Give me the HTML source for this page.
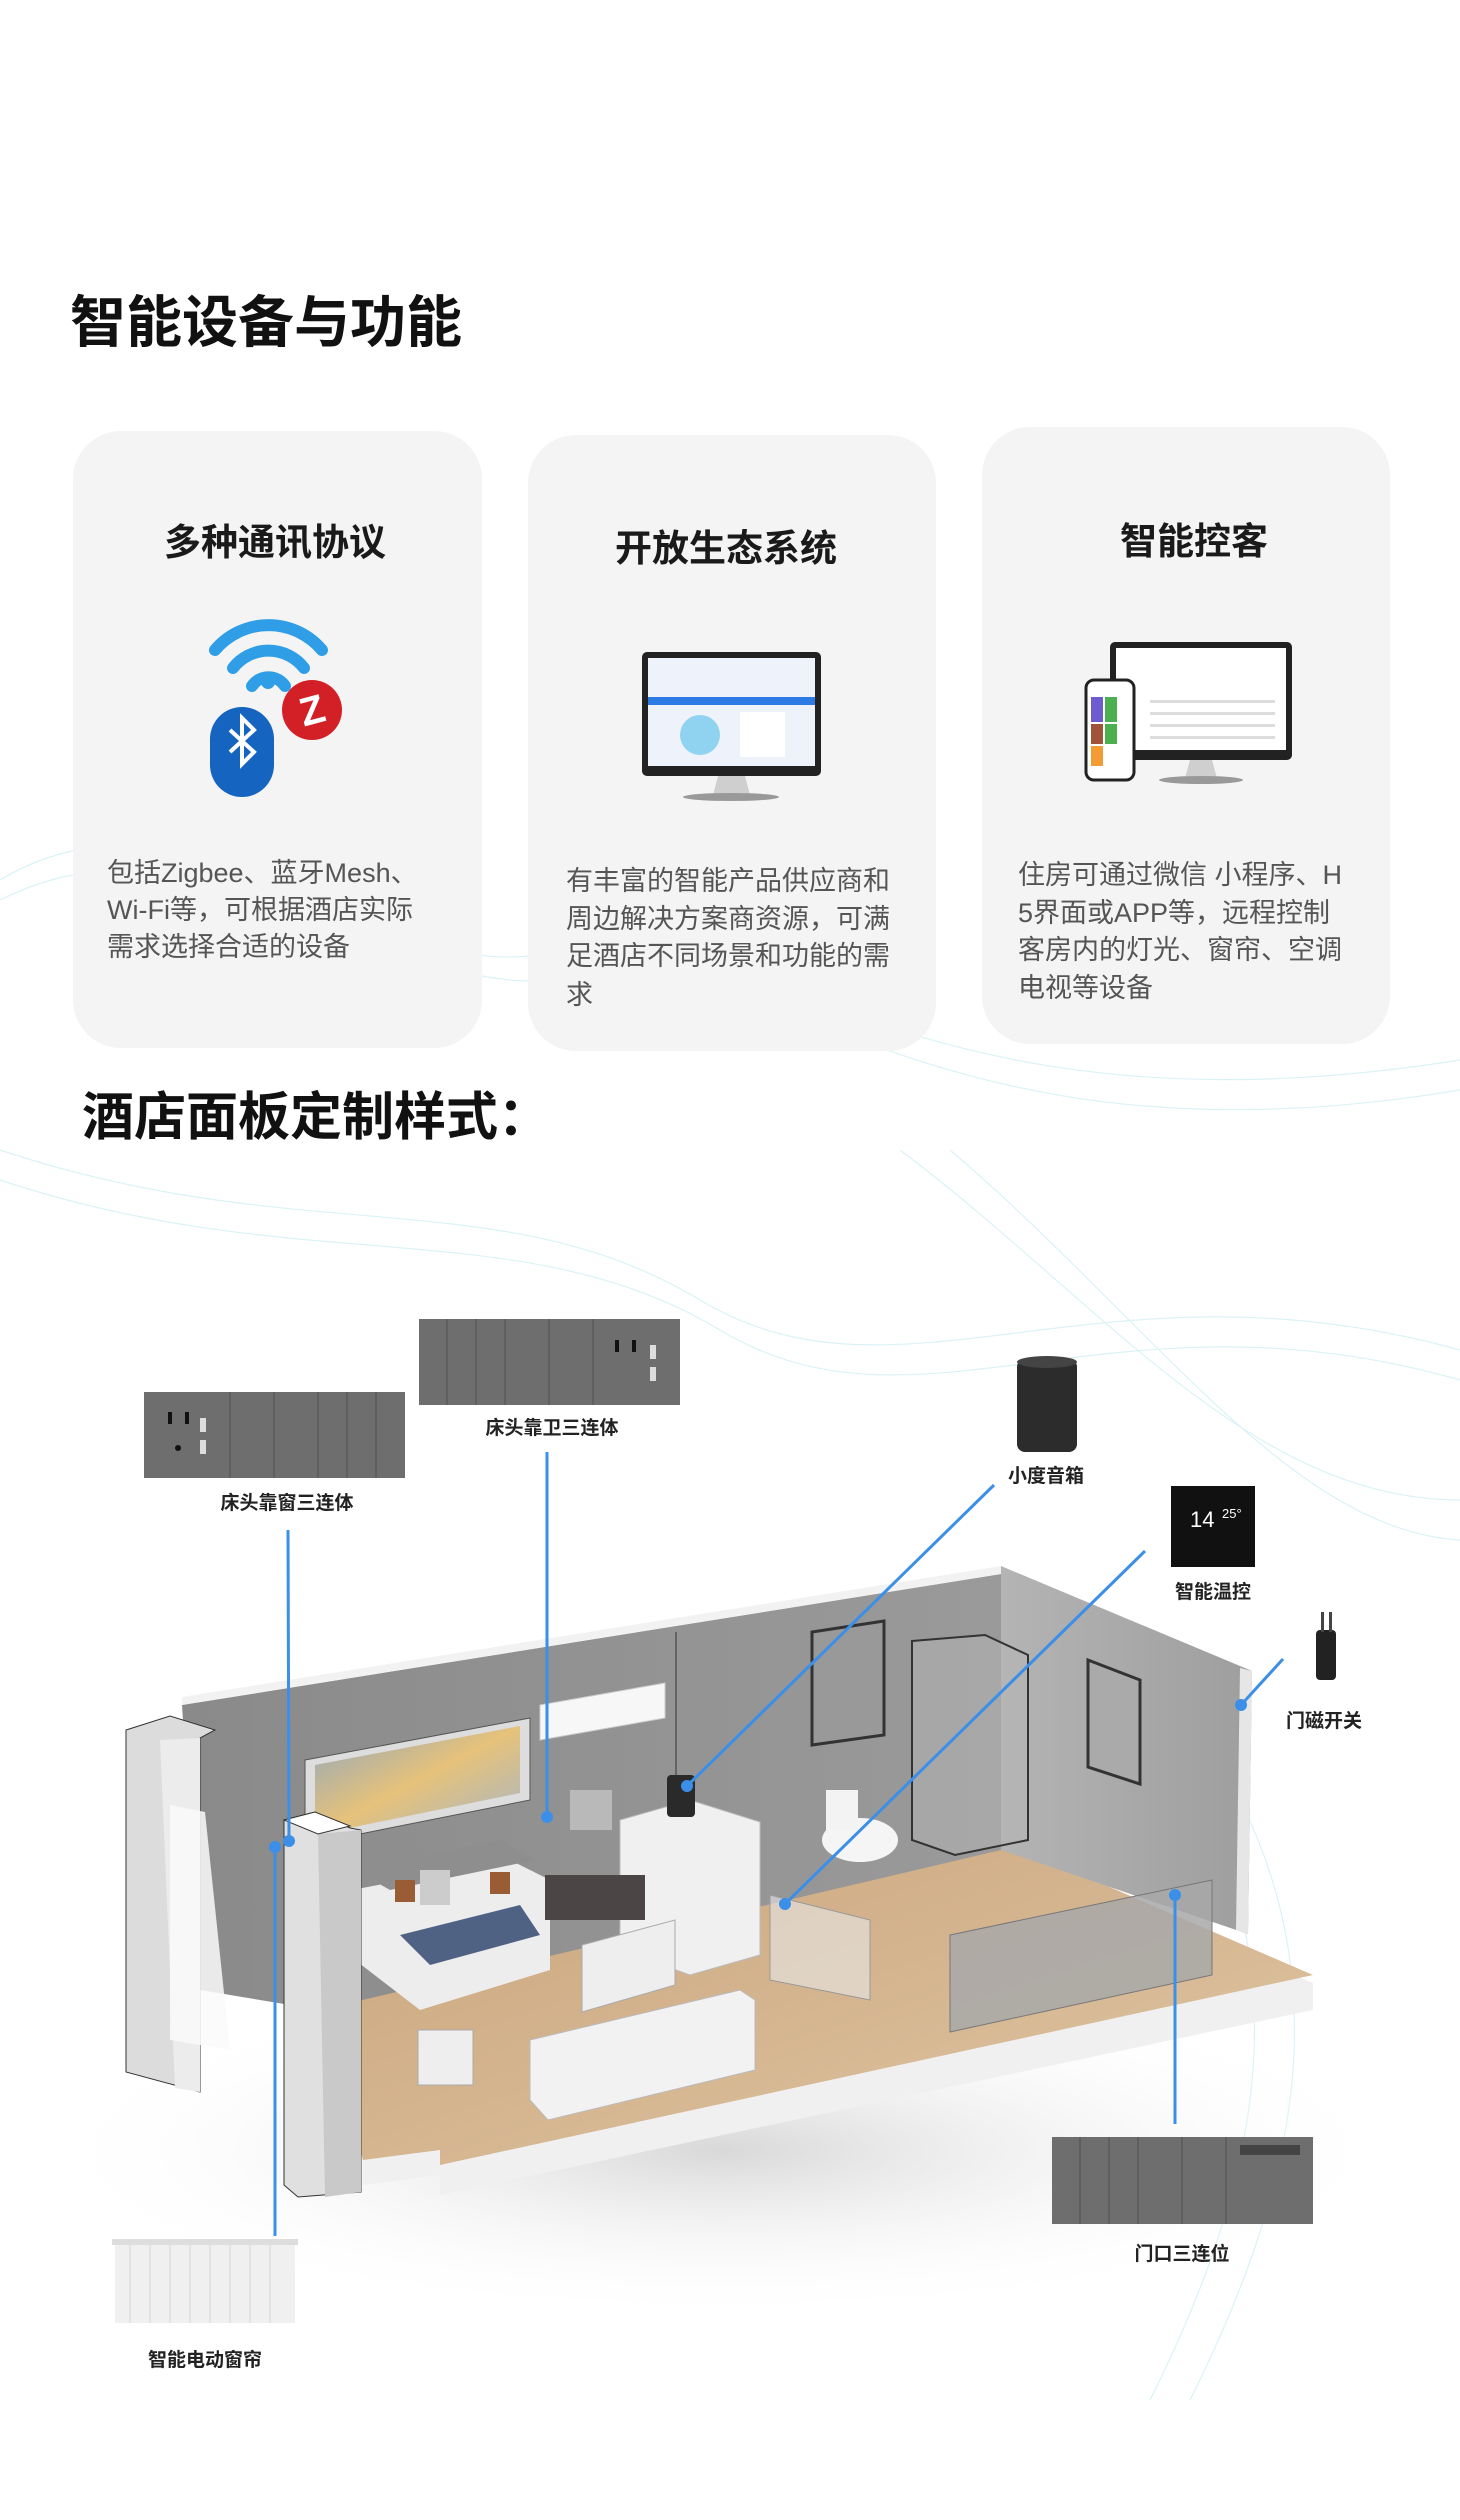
<!DOCTYPE html>
<html><head><meta charset="utf-8"><style>
html,body{margin:0;padding:0;background:#fff}
body{width:1460px;height:2520px;position:relative;overflow:hidden;font-family:"Liberation Sans","Noto Sans CJK SC",sans-serif}
svg{position:absolute;left:0;top:0}
</style></head><body>
<svg width="1460" height="2520" viewBox="0 0 1460 2520" xmlns="http://www.w3.org/2000/svg" font-family="Liberation Sans, Noto Sans CJK SC, sans-serif">
<defs>
<linearGradient id="bw" x1="0" y1="0" x2="1" y2="0"><stop offset="0" stop-color="#8a8a8a"/><stop offset="1" stop-color="#9a9a9a"/></linearGradient>
<linearGradient id="rw" x1="0" y1="0" x2="1" y2="0"><stop offset="0" stop-color="#b4b4b4"/><stop offset="1" stop-color="#9e9e9e"/></linearGradient>
<linearGradient id="fl" x1="0" y1="0" x2="1" y2="1"><stop offset="0" stop-color="#c9a47c"/><stop offset="1" stop-color="#e0c6a4"/></linearGradient>
<linearGradient id="art" x1="0" y1="0" x2="1" y2="1"><stop offset="0" stop-color="#8fa6c0"/><stop offset=".5" stop-color="#e6c27a"/><stop offset="1" stop-color="#a6b6c8"/></linearGradient>
<radialGradient id="sh" cx=".5" cy=".5" r=".5"><stop offset="0" stop-color="#d8d8d8"/><stop offset="1" stop-color="#fff" stop-opacity="0"/></radialGradient>
</defs>
<g fill="none" stroke="#bfe8ee" stroke-width="1.2" opacity=".55">
<path d="M0 880 C200 760 380 1000 560 950 S900 1150 1460 1060"/>
<path d="M0 900 C220 790 400 1020 580 975 S920 1180 1460 1090"/>
<path d="M0 1150 C300 1250 500 1180 700 1300 S1100 1250 1460 1350"/>
<path d="M0 1180 C300 1280 520 1210 720 1330 S1110 1280 1460 1380"/>
<path d="M900 1150 C1100 1300 1250 1500 1460 1500"/>
<path d="M950 1150 C1150 1320 1290 1530 1460 1540"/>
<path d="M1200 1800 C1300 2000 1250 2200 1150 2400"/>
<path d="M1240 1800 C1340 2000 1290 2200 1190 2400"/>
</g>
<text x="70" y="342" font-size="56" font-weight="bold" fill="#111">智能设备与功能</text>
<rect x="73" y="431" width="409" height="617" rx="48" fill="#f4f4f4"/>
<rect x="528" y="435" width="408" height="616" rx="48" fill="#f4f4f4"/>
<rect x="982" y="427" width="408" height="617" rx="48" fill="#f4f4f4"/>
<g font-size="37" font-weight="bold" fill="#1a1a1a" text-anchor="middle">
<text x="275" y="555">多种通讯协议</text>
<text x="726" y="561">开放生态系统</text>
<text x="1194" y="554">智能控客</text>
</g>
<g fill="none" stroke="#2f9ee6" stroke-width="12" stroke-linecap="round">
<path d="M215 650 A70 70 0 0 1 322 650"/>
<path d="M233 668 A45 45 0 0 1 304 668"/>
<path d="M252 686 A20 20 0 0 1 285 686"/>
</g>
<circle cx="268" cy="682" r="7" fill="#2f9ee6"/>
<rect x="210" y="707" width="64" height="90" rx="32" fill="#1565c0"/>
<path d="M230 730 L254 752 L242 764 L242 718 L254 730 L230 752" fill="none" stroke="#fff" stroke-width="4"/>
<circle cx="312" cy="710" r="30" fill="#d32027"/>
<text x="312" y="724" font-size="40" font-weight="bold" fill="#fff" text-anchor="middle" transform="rotate(-15 312 710)">Z</text>
<rect x="642" y="652" width="179" height="124" rx="5" fill="#222"/>
<rect x="648" y="658" width="167" height="108" fill="#eef3fb"/>
<rect x="648" y="697" width="167" height="8" fill="#2c7be5"/>
<circle cx="700" cy="735" r="20" fill="#8fd3f0"/>
<rect x="740" y="712" width="45" height="45" fill="#fff"/>
<path d="M718 776 L745 776 L750 795 L713 795Z" fill="#cfcfcf"/>
<ellipse cx="731" cy="797" rx="48" ry="4" fill="#999"/>
<rect x="1110" y="642" width="182" height="118" rx="5" fill="#222"/>
<rect x="1116" y="648" width="170" height="102" fill="#fff"/>
<g fill="#ddd"><rect x="1150" y="700" width="125" height="3"/><rect x="1150" y="712" width="125" height="3"/><rect x="1150" y="724" width="125" height="3"/><rect x="1150" y="736" width="125" height="3"/></g>
<path d="M1190 760 L1212 760 L1217 778 L1185 778Z" fill="#cfcfcf"/>
<ellipse cx="1201" cy="780" rx="42" ry="4" fill="#999"/>
<rect x="1086" y="680" width="48" height="100" rx="8" fill="#fff" stroke="#222" stroke-width="3"/>
<rect x="1091" y="697" width="12" height="25" fill="#6f5bd0"/><rect x="1105" y="697" width="12" height="25" fill="#4caf50"/>
<rect x="1091" y="724" width="12" height="20" fill="#a0523a"/><rect x="1105" y="724" width="12" height="20" fill="#4caf50"/>
<rect x="1091" y="746" width="12" height="20" fill="#f39c33"/>
<g font-size="27" fill="#555">
<text x="107" y="882">包括Zigbee、蓝牙Mesh、</text>
<text x="107" y="919">Wi-Fi等，可根据酒店实际</text>
<text x="107" y="956">需求选择合适的设备</text>
<text x="566" y="890">有丰富的智能产品供应商和</text>
<text x="566" y="928">周边解决方案商资源，可满</text>
<text x="566" y="965">足酒店不同场景和功能的需</text>
<text x="566" y="1004">求</text>
<text x="1018" y="884">住房可通过微信 小程序、H</text>
<text x="1018" y="922">5界面或APP等，远程控制</text>
<text x="1018" y="959">客房内的灯光、窗帘、空调</text>
<text x="1018" y="997">电视等设备</text>
</g>
<text x="82" y="1135" font-size="52" font-weight="bold" fill="#111">酒店面板定制样式：</text>

<ellipse cx="720" cy="2150" rx="700" ry="170" fill="url(#sh)"/>
<polygon points="320,2020 1001,1850 1313,1983 1313,2010 440,2195 440,2175 363,2185 363,2160" fill="#f0f0f0"/>
<polygon points="320,2000 1001,1840 1313,1975 440,2165 440,2150 363,2160" fill="url(#fl)"/>
<polygon points="182,1705 1001,1574 1001,1850 320,2010 200,1990" fill="url(#bw)"/>
<polygon points="182,1697 1001,1566 1001,1574 182,1705" fill="#f2f2f2"/>
<polygon points="1001,1566 1252,1671 1248,1934 1001,1850" fill="url(#rw)"/>
<polygon points="1240,1668 1252,1671 1248,1934 1236,1930" fill="#e6e6e6"/>
<line x1="676" y1="1632" x2="676" y2="1925" stroke="#555" stroke-width="1.5"/>
<polygon points="540,1705 665,1683 665,1718 540,1740" fill="#f7f7f7" stroke="#ccc"/>
<polygon points="305,1760 530,1718 530,1800 305,1845" fill="#ddd" stroke="#555"/>
<polygon points="315,1765 520,1726 520,1793 315,1835" fill="url(#art)"/>
<polygon points="812,1632 884,1621 884,1735 812,1745" fill="#999" stroke="#333" stroke-width="3"/>
<polygon points="1088,1660 1140,1680 1140,1784 1088,1767" fill="#aaa" stroke="#333" stroke-width="3"/>
<polygon points="912,1641 985,1635 1028,1655 1028,1840 955,1855 912,1840" fill="#b5b5b5" fill-opacity=".5" stroke="#333" stroke-width="2"/>
<ellipse cx="860" cy="1840" rx="38" ry="22" fill="#f5f5f5"/>
<rect x="826" y="1790" width="32" height="40" fill="#f3f3f3"/>
<polygon points="620,1820 690,1800 760,1822 760,1955 690,1975 620,1950" fill="#f0f0f0" stroke="#bbb"/>
<polygon points="770,1895 870,1920 870,2000 770,1980" fill="#e8e8e8" fill-opacity=".6" stroke="#999"/>
<polygon points="950,1935 1212,1880 1212,1975 950,2032" fill="#a8a8a8" fill-opacity=".85" stroke="#777"/>
<polygon points="352,1890 510,1860 550,1880 550,1970 420,2010 355,1960" fill="#ededed"/>
<polygon points="355,1870 500,1840 535,1860 390,1890" fill="#8e8e8e"/>
<polygon points="400,1935 520,1905 540,1935 430,1965" fill="#4f6283"/>
<rect x="395" y="1880" width="20" height="22" fill="#9a5c35"/><rect x="490" y="1872" width="20" height="22" fill="#9a5c35"/>
<rect x="420" y="1870" width="30" height="35" fill="#ccc"/>
<rect x="545" y="1875" width="100" height="45" fill="#4b4545"/>
<rect x="570" y="1790" width="42" height="40" fill="#b9b9b9"/>
<polygon points="582,1945 675,1920 675,1985 582,2012" fill="#eee" stroke="#aaa"/>
<polygon points="530,2040 740,1990 755,2000 755,2070 548,2120 530,2100" fill="#f2f2f2" stroke="#bbb"/>
<rect x="418" y="2030" width="55" height="55" fill="#eee" stroke="#aaa"/>
<polygon points="126,1730 170,1716 215,1730 200,1738 200,2092 126,2072" fill="#dcdcdc" stroke="#333" stroke-width="1"/>
<polygon points="160,1740 200,1738 200,2092 175,2088" fill="#ececec"/>
<polygon points="170,1805 205,1812 230,2050 170,2040" fill="#fafafa" opacity=".85"/>
<polygon points="284,1820 315,1812 350,1828 361,1830 361,2192 298,2197 284,2185" fill="#e0e0e0" stroke="#333" stroke-width="1"/>
<polygon points="318,1834 361,1830 361,2192 325,2197" fill="#c9c9c9"/>
<polygon points="284,1820 315,1812 350,1826 318,1834" fill="#fff" stroke="#333" stroke-width="1"/>
<rect x="667" y="1775" width="28" height="42" rx="4" fill="#2a2a2a"/>

<g stroke="#3b8fe8" stroke-width="3" fill="none">
<line x1="288" y1="1530" x2="289" y2="1841"/>
<line x1="275" y1="1845" x2="275" y2="2236"/>
<line x1="547" y1="1452" x2="547" y2="1817"/>
<line x1="994" y1="1485" x2="687" y2="1786"/>
<line x1="1145" y1="1551" x2="785" y2="1904"/>
<line x1="1283" y1="1659" x2="1241" y2="1705"/>
<line x1="1175" y1="1895" x2="1175" y2="2124"/>
</g>
<g fill="#3b8fe8">
<circle cx="289" cy="1841" r="6"/><circle cx="275" cy="1847" r="6"/><circle cx="547" cy="1817" r="6"/>
<circle cx="687" cy="1786" r="6"/><circle cx="785" cy="1904" r="6"/><circle cx="1241" cy="1705" r="6"/><circle cx="1175" cy="1895" r="6"/>
</g>

<g>
<rect x="144" y="1392" width="261" height="86" fill="#6e6e6e"/>
<g stroke="#5a5a5a" stroke-width="1.5"><line x1="230" y1="1392" x2="230" y2="1478"/><line x1="274" y1="1392" x2="274" y2="1478"/><line x1="318" y1="1392" x2="318" y2="1478"/><line x1="347" y1="1392" x2="347" y2="1478"/><line x1="376" y1="1392" x2="376" y2="1478"/></g>
<rect x="168" y="1412" width="4" height="12" fill="#111"/><rect x="185" y="1412" width="4" height="12" fill="#111"/><rect x="200" y="1418" width="6" height="14" fill="#ddd"/><rect x="200" y="1440" width="6" height="14" fill="#ddd"/>
<circle cx="178" cy="1448" r="3" fill="#111"/>
</g>
<text x="287" y="1509" font-size="19" font-weight="bold" fill="#222" text-anchor="middle">床头靠窗三连体</text>
<g>
<rect x="419" y="1319" width="261" height="86" fill="#6e6e6e"/>
<g stroke="#5a5a5a" stroke-width="1.5"><line x1="447" y1="1319" x2="447" y2="1405"/><line x1="476" y1="1319" x2="476" y2="1405"/><line x1="505" y1="1319" x2="505" y2="1405"/><line x1="549" y1="1319" x2="549" y2="1405"/><line x1="593" y1="1319" x2="593" y2="1405"/></g>
<rect x="615" y="1340" width="4" height="12" fill="#111"/><rect x="632" y="1340" width="4" height="12" fill="#111"/><rect x="650" y="1345" width="6" height="14" fill="#ddd"/><rect x="650" y="1367" width="6" height="14" fill="#ddd"/>
</g>
<text x="552" y="1434" font-size="19" font-weight="bold" fill="#222" text-anchor="middle">床头靠卫三连体</text>
<rect x="1017" y="1359" width="60" height="93" rx="8" fill="#2c2c2c"/>
<ellipse cx="1047" cy="1362" rx="30" ry="6" fill="#444"/>
<text x="1046" y="1482" font-size="19" font-weight="bold" fill="#222" text-anchor="middle">小度音箱</text>
<rect x="1171" y="1486" width="84" height="81" fill="#111"/>
<text x="1190" y="1527" font-size="22" fill="#fff">14</text><text x="1222" y="1518" font-size="13" fill="#fff">25°</text>
<text x="1213" y="1598" font-size="19" font-weight="bold" fill="#222" text-anchor="middle">智能温控</text>
<rect x="1316" y="1630" width="20" height="50" rx="4" fill="#222"/>
<rect x="1321" y="1612" width="3" height="20" fill="#444"/><rect x="1329" y="1612" width="3" height="20" fill="#444"/>
<text x="1324" y="1727" font-size="19" font-weight="bold" fill="#222" text-anchor="middle">门磁开关</text>
<g>
<rect x="1052" y="2137" width="261" height="87" fill="#6e6e6e"/>
<g stroke="#5a5a5a" stroke-width="1.5"><line x1="1080" y1="2137" x2="1080" y2="2224"/><line x1="1109" y1="2137" x2="1109" y2="2224"/><line x1="1138" y1="2137" x2="1138" y2="2224"/><line x1="1182" y1="2137" x2="1182" y2="2224"/><line x1="1226" y1="2137" x2="1226" y2="2224"/></g>
<rect x="1240" y="2145" width="60" height="10" fill="#444"/>
</g>
<text x="1182" y="2260" font-size="19" font-weight="bold" fill="#222" text-anchor="middle">门口三连位</text>
<rect x="112" y="2239" width="186" height="6" fill="#ddd"/>
<g fill="#f0f0f0"><rect x="115" y="2245" width="180" height="78"/></g>
<g stroke="#e2e2e2" stroke-width="2"><line x1="130" y1="2245" x2="130" y2="2323"/><line x1="150" y1="2245" x2="150" y2="2323"/><line x1="170" y1="2245" x2="170" y2="2323"/><line x1="190" y1="2245" x2="190" y2="2323"/><line x1="210" y1="2245" x2="210" y2="2323"/><line x1="230" y1="2245" x2="230" y2="2323"/><line x1="250" y1="2245" x2="250" y2="2323"/><line x1="270" y1="2245" x2="270" y2="2323"/></g>
<text x="205" y="2366" font-size="19" font-weight="bold" fill="#222" text-anchor="middle">智能电动窗帘</text>
</svg>
</body></html>
